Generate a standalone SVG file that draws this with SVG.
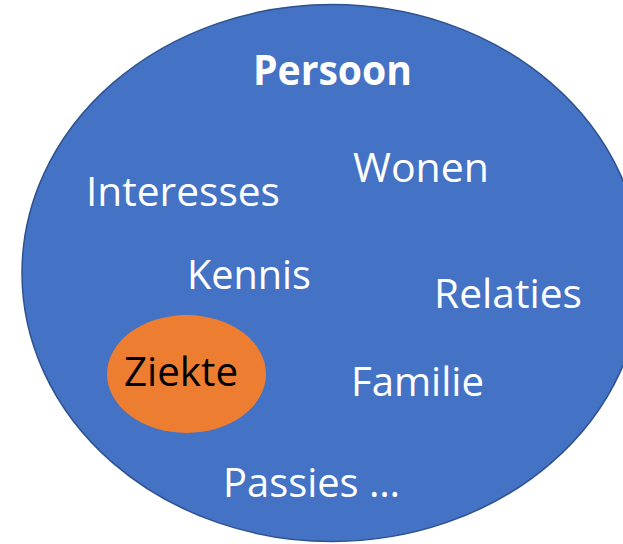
<svg xmlns="http://www.w3.org/2000/svg" width="623" height="544" viewBox="0 0 623 544">
<style>
.t{font-family:"Open Sans","Liberation Sans",sans-serif;font-size:41px;fill:#ffffff}
.b{font-weight:bold}
.k{fill:#000000}
</style>
<rect width="623" height="544" fill="#ffffff"/>
<g id="persoon">
<ellipse cx="332" cy="273" rx="310" ry="268.500" fill="#4472C4" stroke="#2F528F" stroke-width="1.5"/>
<text class="t b" x="253" y="85" textLength="159" lengthAdjust="spacingAndGlyphs">Persoon</text>
</g>
<g id="wonen"><text class="t" x="353" y="182" textLength="136" lengthAdjust="spacingAndGlyphs">Wonen</text></g>
<g id="interesses"><text class="t" x="86" y="206" textLength="194" lengthAdjust="spacingAndGlyphs">Interesses</text></g>
<g id="kennis"><text class="t" x="187" y="289" textLength="124" lengthAdjust="spacingAndGlyphs">Kennis</text></g>
<g id="relaties"><text class="t" x="434" y="308" textLength="148" lengthAdjust="spacingAndGlyphs">Relaties</text></g>
<g id="ziekte">
<ellipse cx="186.500" cy="374" rx="79.500" ry="59" fill="#ED7D31"/>
<text class="t k" x="124" y="386" textLength="114" lengthAdjust="spacingAndGlyphs">Ziekte</text>
</g>
<g id="familie"><text class="t" x="351" y="396" textLength="133" lengthAdjust="spacingAndGlyphs">Familie</text></g>
<g id="passies"><text class="t" x="223" y="497" textLength="177" lengthAdjust="spacingAndGlyphs">Passies …</text></g>
<g id="connectors"/>
</svg>
